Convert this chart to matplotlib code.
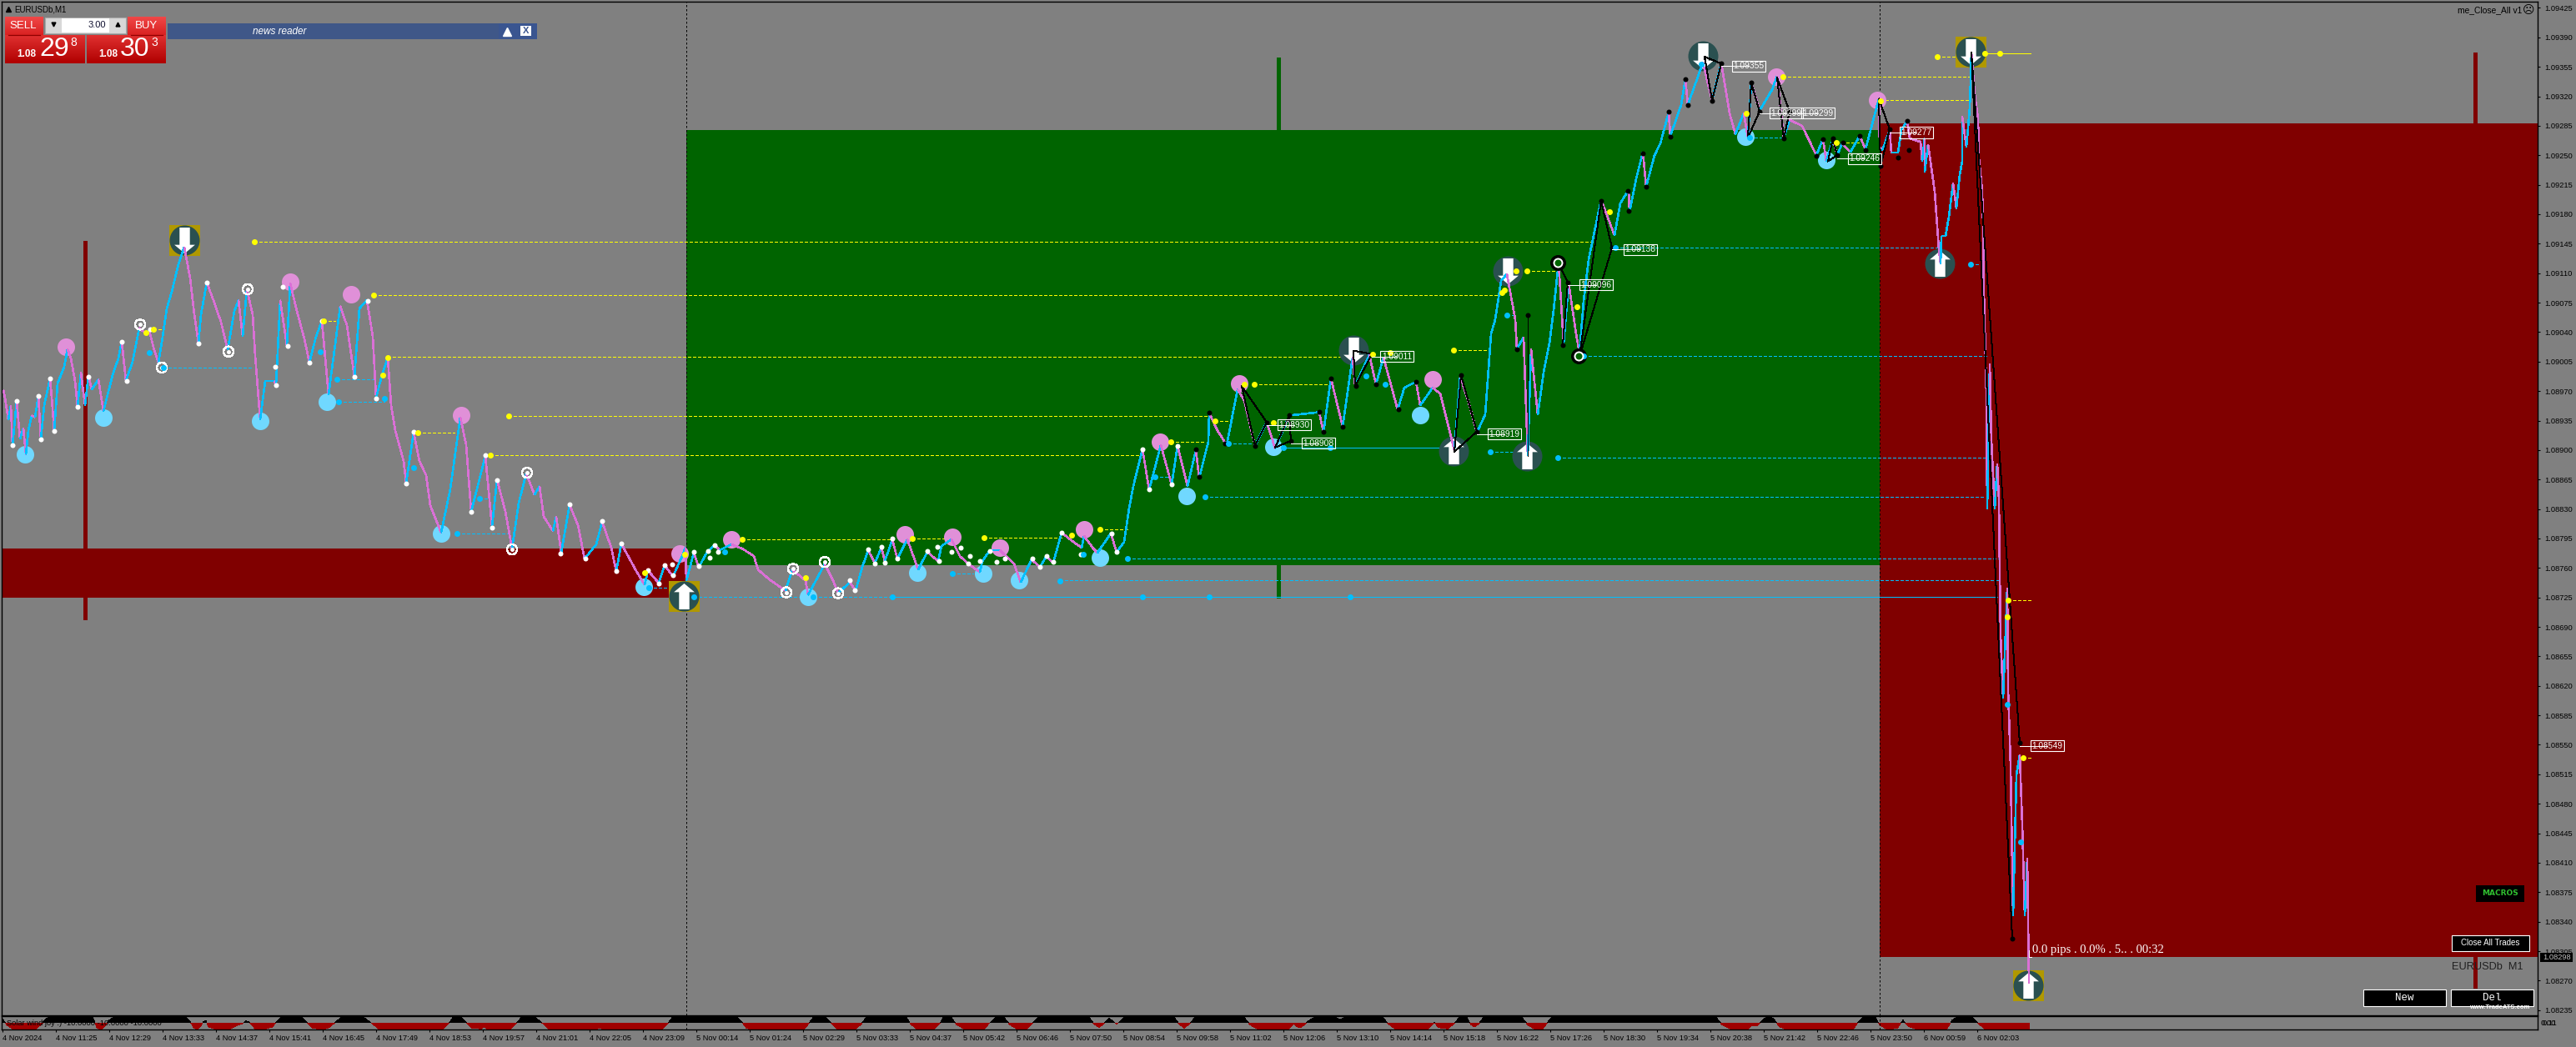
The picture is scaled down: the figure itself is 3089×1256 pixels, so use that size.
import numpy as np
import matplotlib
matplotlib.use('Agg')
import matplotlib.pyplot as plt
from matplotlib.collections import LineCollection
from matplotlib.patches import Rectangle
from matplotlib.path import Path

plt.rcParams['font.family'] = ['Liberation Sans', 'DejaVu Sans']

BG = '#808080'
DKRED = '#800000'
GREEN = '#006400'
UP = '#00BFFF'
DOWN = '#DA70D6'
YEL = '#FFFF00'

# bars are M1 bars from the left edge, prices are points above 1.08000
path_bar = [1, 3, 7, 10, 12, 17, 21, 25, 28, 31, 35, 39, 43, 46, 50, 57, 59, 62, 66, 74, 78, 82, 87, 90, 94, 99, 103, 107, 115, 121,
            132, 139, 143, 148, 156, 164, 172, 176, 181, 187, 191, 197, 203, 211, 218, 225, 230, 235, 238, 245, 254, 262, 270, 278, 283, 288, 293, 300, 303, 309,
            315, 326, 328, 333, 341, 345, 353, 362, 368, 376, 383, 391, 405, 413, 422, 428, 437, 444, 448, 455, 462, 466, 471, 481, 484, 493, 500, 508, 513, 526,
            537, 549, 556, 562, 569, 579, 587, 593, 603, 611, 619, 628, 638, 644, 649, 660, 664, 670, 680, 690, 698, 712, 719, 730, 736, 742, 759, 770, 774, 787,
            794, 804, 815, 819, 820, 829, 835, 845, 854, 860, 874, 887, 901, 906, 920, 939, 947, 963, 966, 977, 986, 996, 1002, 1016, 1023, 1031, 1038, 1046, 1054, 1058,
            1067, 1073, 1085, 1098, 1109, 1122, 1126, 1138, 1148, 1158, 1172, 1175, 1184, 1196, 1213, 1221, 1234, 1244, 1252, 1260, 1270, 1280, 1294, 1297, 1308, 1313, 1329, 1336, 1345, 1351,
            1356, 1367, 1375, 1383, 1389, 1397, 1402, 1409, 1421, 1431, 1435, 1446, 1447, 1457, 1468, 1481, 1489, 1502, 1516, 1526, 1543, 1579, 1584, 1593, 1607, 1619, 1622, 1639, 1647, 1656,
            1673, 1681, 1695, 1700, 1715, 1724, 1741, 1748, 1758, 1768, 1778, 1785, 1790, 1797, 1804, 1814, 1816, 1824, 1829, 1833, 1841, 1848, 1855, 1860, 1866, 1872, 1878, 1887, 1891, 1896,
            1902, 1911, 1917, 1925, 1933, 1940, 1950, 1951, 1959, 1967, 1971, 1981, 1988, 1998, 2000, 2013, 2018, 2021, 2039, 2050, 2061, 2071, 2078, 2088, 2093, 2097, 2107, 2122, 2128, 2136,
            2143, 2158, 2175, 2183, 2187, 2195, 2200, 2206, 2216, 2227, 2234, 2250, 2251, 2254, 2257, 2263, 2265, 2273, 2277, 2284, 2287, 2300, 2302, 2305, 2305, 2309, 2317, 2322, 2324, 2325,
            2330, 2334, 2339, 2343, 2347, 2350, 2350, 2355, 2359, 2361, 2365, 2369, 2370, 2374, 2375, 2376, 2379, 2380, 2383, 2385, 2389, 2392, 2394, 2395, 2396, 2399, 2404, 2405, 2408, 2411,
            2415, 2419, 2422, 2425, 2428, 2430]
path_pts = [971, 962, 936, 953, 906, 958, 913, 926, 895, 923, 941, 939, 964, 913, 953, 985, 962, 923, 979, 999, 1020, 1009, 982, 951, 992, 953, 988, 972, 984, 946,
            989, 1009, 1029, 982, 1005, 1045, 1038, 1042, 1022, 1004, 1028, 1068, 1088, 1121, 1141, 1104, 1061, 1027, 1061, 1099, 1075, 1052, 1019, 1065, 1078, 1035, 1091, 1061, 1012, 936,
            982, 982, 977, 1078, 1024, 1098, 1065, 1032, 1004, 1035, 1053, 966, 1071, 1048, 987, 1068, 1078, 1035, 962, 989, 1010, 953, 923, 887, 861, 921, 887, 870, 834, 802,
            854, 939, 906, 827, 854, 893, 809, 865, 827, 783, 837, 872, 847, 857, 821, 804, 821, 778, 835, 811, 771, 788, 815, 784, 756, 789, 758, 740, 757, 742,
            763, 750, 774, 784, 745, 778, 761, 779, 787, 781, 788, 783, 774, 758, 746, 733, 758, 745, 728, 748, 765, 745, 730, 743, 733, 761, 781, 766, 784, 768,
            794, 771, 794, 758, 779, 768, 786, 794, 774, 765, 755, 768, 781, 781, 765, 743, 770, 761, 774, 766, 802, 794, 784, 798, 783, 778, 801, 779, 791, 831,
            857, 901, 853, 883, 906, 877, 859, 905, 857, 900, 867, 910, 944, 923, 906, 972, 959, 905, 933, 902, 941, 945, 921, 985, 928, 1010, 976, 1013, 978, 1010,
            948, 974, 981, 953, 974, 967, 900, 988, 957, 921, 942, 1038, 1055, 1101, 1109, 1055, 1020, 1034, 893, 1020, 942, 992, 1027, 1066, 1123, 1027, 1098, 1038, 1015, 1077,
            1126, 1169, 1197, 1176, 1155, 1193, 1209, 1183, 1222, 1254, 1213, 1250, 1264, 1301, 1273, 1310, 1340, 1310, 1360, 1315, 1360, 1300, 1275, 1300, 1271, 1336, 1303, 1328, 1344, 1271,
            1292, 1285, 1250, 1269, 1243, 1269, 1250, 1264, 1254, 1273, 1257, 1317, 1260, 1256, 1263, 1280, 1253, 1253, 1280, 1291, 1270, 1266, 1243, 1270, 1230, 1263, 1207, 1138, 1121, 1154,
            1154, 1177, 1217, 1187, 1227, 1243, 1296, 1260, 1306, 1372, 1322, 1293, 1247, 1207, 1167, 1088, 965, 830, 1002, 911, 830, 884, 841, 755, 680, 605, 736, 616, 525, 347,
            514, 538, 455, 347, 415, 267]

white_bar = [12, 17, 43, 46, 57, 62, 90, 103, 143, 149, 177, 235, 245, 327, 328, 336, 342, 368, 383, 422, 438, 448, 484, 493, 562, 579, 587, 593, 669, 680, 699, 719, 736, 742, 774, 787, 794, 803, 804,
             829, 835, 846, 848, 854, 858, 1016, 1022, 1038, 1046, 1054, 1058, 1067, 1073, 1109, 1121, 1123, 1138, 1149, 1158, 1160, 1172, 1184, 1192, 1202, 1235, 1244, 1252, 1260, 1270, 1293, 1330, 1336, 1367, 1375, 1402, 1409]
white_pts = [906, 958, 964, 913, 985, 923, 951, 987, 1029, 982, 1043, 1027, 1099, 999, 977, 1094, 1024, 1004, 1053, 987, 1077, 961, 860, 922, 827, 894, 808, 864, 777, 836, 771, 816, 756, 789, 757, 742, 763, 764, 751,
             779, 762, 780, 772, 787, 779, 745, 734, 782, 765, 785, 766, 795, 771, 780, 785, 768, 779, 784, 765, 774, 768, 780, 767, 771, 771, 761, 774, 767, 802, 776, 801, 779, 901, 853, 859, 905]

black_bar = [1431, 1435, 1447, 1466, 1502, 1516, 1543, 1545, 1579, 1584, 1593, 1607, 1623, 1647, 1674, 1695, 1749, 1768, 1816, 1829, 1871, 1877, 1917, 1930, 1949, 1950, 1967, 1971, 1998, 2000, 2018, 2021, 2050, 2061, 2097, 2107, 2136, 2143, 2175, 2183, 2195, 2200, 2207, 2227, 2234, 2252, 2263, 2273, 2284, 2286, 2410, 2419]
black_pts = [901, 868, 944, 908, 905, 933, 941, 911, 945, 922, 985, 928, 976, 978, 948, 981, 989, 922, 1020, 1060, 1025, 1099, 1196, 1140, 1208, 1184, 1252, 1213, 1302, 1272, 1340, 1310, 1315, 1359, 1336, 1302, 1270, 1302, 1249, 1269, 1270, 1250, 1265, 1273, 1256, 1237, 1281, 1247, 1291, 1256, 320, 552]

ring_bar = [165, 271, 294, 191, 611, 629, 948, 986, 940, 1002]
ring_pts = [1049, 1017, 1091, 998, 782, 873, 759, 767, 731, 730]
dark_ring_bar = [1865, 1890]
dark_ring_pts = [1123, 1012]

pink_bar = [76, 345, 418, 550, 812, 874, 1082, 1139, 1196, 1297, 1388, 1483, 1715, 2127, 2248]
pink_pts = [1023, 1100, 1085, 941, 777, 794, 800, 797, 784, 806, 910, 979, 984, 1343, 1316]
cyan_bar = [27, 121, 309, 389, 526, 769, 966, 1097, 1176, 1219, 1316, 1420, 1524, 1700, 2090, 2187]
cyan_pts = [895, 938, 935, 957, 801, 738, 726, 754, 753, 745, 772, 845, 904, 941, 1272, 1244]

yel_bar = [302, 445, 462, 607, 585, 172, 181, 385, 456, 498, 770, 818, 887, 1091, 1177, 963, 1282, 1316, 1401, 1454, 1501, 1489, 1524, 1643, 1664, 1740, 1815, 1828, 1801, 1798, 1888, 1927, 2091, 2135, 2199, 2252, 2320, 2377, 2395, 2405, 2404, 2423]
yel_pts = [1147, 1084, 1010, 940, 894, 1039, 1043, 1053, 989, 921, 754, 776, 794, 795, 796, 748, 799, 806, 910, 935, 978, 978, 933, 1014, 1016, 1019, 1113, 1113, 1090, 1087, 1070, 1183, 1300, 1343, 1265, 1315, 1367, 1371, 1371, 722, 702, 535]
yel_lvl_x0 = [302, 445, 462, 607, 585, 181, 385, 498, 887, 1091, 1177, 1316, 1401, 1454, 1501, 1740, 1828, 2135, 2199, 2252, 2320, 2405, 2423]
yel_lvl_x1 = [1908, 1795, 1615, 1446, 1367, 194, 399, 542, 1066, 1137, 1270, 1351, 1440, 1470, 1593, 1782, 1865, 2359, 2226, 2359, 2359, 2432, 2432]
yel_lvl_pts = [1147, 1084, 1011, 940, 894, 1043, 1053, 921, 794, 795, 796, 806, 910, 935, 978, 1019, 1113, 1343, 1265, 1316, 1367, 722, 535]
yel_solid_x0 = [2377]
yel_solid_x1 = [2432]
yel_solid_pts = [1371]

blue_bar = [193, 176, 381, 401, 403, 458, 493, 572, 545, 775, 829, 972, 1067, 1367, 1447, 1616, 866, 1139, 1268, 1349, 1442, 1296, 1382, 1470, 1536, 1592, 1784, 1865, 1896, 1934, 1635, 1658, 1804, 2095, 2037, 2360, 2404, 2420]
blue_pts = [998, 1016, 1017, 984, 957, 961, 879, 842, 801, 737, 726, 726, 726, 726, 726, 726, 779, 753, 744, 771, 844, 776, 868, 908, 903, 903, 898, 891, 1012, 1140, 988, 978, 1060, 1271, 1358, 1121, 598, 435]
blue_lvl_x0 = [193, 401, 403, 572, 545, 775, 829, 1139, 1268, 1349, 1442, 1382, 1470, 1784, 1865, 1896, 1934, 2095, 2360, 1804]
blue_lvl_x1 = [301, 447, 458, 582, 608, 799, 1067, 1164, 2394, 2395, 2376, 1400, 1500, 1828, 2379, 2379, 2320, 2134, 2375, 1814]
blue_lvl_pts = [998, 984, 957, 842, 801, 737, 726, 753, 745, 771, 844, 868, 908, 898, 891, 1012, 1140, 1271, 1121, 1060]
solid_x0 = [1067, 1536]
solid_x1 = [2392, 1741]
solid_pts = [726, 903]

box_x0 = [-1, 820, 2251]
box_x1 = [820, 2251, 3040]
box_lo = [725, 763, 298]
box_hi = [783, 1280, 1288]
box_col = [DKRED, GREEN, DKRED]
stick_bar = [99, 1530, 2965]
stick_lo = [699, 725, 261]
stick_hi = [1148, 1366, 1372]
stick_col = [DKRED, GREEN, DKRED]

# arrow signals: bar, price, direction, gold square behind
arrow_bar = [218, 817, 1620, 1805, 2039, 1740, 1828, 2360, 2323, 2429]
arrow_pts = [1149, 727, 1019, 1113, 1368, 899, 893, 1373, 1122, 264]
arrow_dir = [-1, 1, -1, -1, -1, 1, 1, -1, 1, 1]
arrow_gold = [1, 1, 0, 0, 0, 0, 0, 1, 0, 1]

# zigzag triangles drawn in thin black
zig_bar = [[1486, 1502, 1516, 1486], [1526, 1545, 1543, 1526], [1620, 1642, 1622, 1620], [1741, 1768, 1749, 1741], [1829, 1829],
           [1865, 1877, 1871], [1891, 1930, 1917, 1891], [2041, 2061, 2050, 2041], [2093, 2107, 2097, 2093], [2128, 2143, 2136, 2128],
           [2189, 2200, 2195, 2189], [2250, 2263, 2252, 2250], [2410, 2361, 2419]]
zig_pts = [[976, 905, 933, 976], [903, 911, 941, 903], [1018, 1014, 976, 1018], [898, 922, 989, 898], [1060, 893],
           [1123, 1099, 1025], [1011, 1140, 1196, 1011], [1367, 1359, 1315, 1367], [1271, 1302, 1336, 1271], [1342, 1302, 1270, 1342],
           [1243, 1250, 1270, 1243], [1317, 1281, 1237, 1317], [320, 1372, 552]]

label_bar = [1549, 1578, 1672, 1801, 1911, 1964, 2094, 2139, 2177, 2233, 2295, 2452]
label_pts = [930, 908, 1011, 919, 1096, 1138, 1356, 1300, 1300, 1246, 1277, 549]
label_txt = ['1.08930', '1.08908', '1.09011', '1.08919', '1.09096', '1.09138', '1.09355', '1.09299', '1.09299', '1.09246', '1.09277', '1.08549']
label_from = [1516, 1545, 1642, 1768, 1877, 1930, 2061, 2107, 2143, 2200, 2263, 2419]

# solar wind sub window
solar_bar = [0, 5, 12, 23, 40, 47, 51, 58, 107, 110, 113, 118, 123, 127, 135, 219, 225, 229, 234, 238, 241, 244, 247, 257, 273, 283, 288, 292, 296, 303, 313, 324, 328, 336, 357, 365, 372, 385, 392, 399,
             408, 431, 441, 451, 528, 535, 540, 548, 556, 563, 574, 577, 581, 609, 616, 622, 637, 646, 655, 711, 716, 721, 790, 797, 803, 805, 879, 887, 892, 899, 961, 967, 973, 986, 994, 1001, 1022, 1029, 1037, 1083,
             1089, 1096, 1116, 1124, 1129, 1137, 1144, 1154, 1177, 1183, 1193, 1200, 1208, 1216, 1228, 1236, 1244, 1302, 1309, 1315, 1320, 1327, 1333, 1336, 1341, 1346, 1404, 1411, 1417, 1424, 1431, 1488, 1496, 1506, 1542, 1549, 1552, 1557, 1562, 1568,
             1577, 1596, 1604, 1613, 1654, 1662, 1670, 1709, 1717, 1722, 1733, 1740, 1747, 1755, 1761, 1765, 1770, 1777, 1821, 1829, 1838, 1847, 1854, 1859, 2054, 2062, 2073, 2093, 2098, 2104, 2112, 2118, 2124, 2131, 2139, 2219, 2225, 2232, 2245, 2251,
             2260, 2272, 2279, 2285, 2296, 2331, 2338, 2345, 2361, 2369, 2378, 2431]
solar_val = [.6, -.3, -.9, -1, -.9, -.2, .5, 1, 1, .3, -.7, -1, -.5, .3, 1, 1, .2, -.7, -1, -.4, .2, .3, -.6, -1, -.9, -.3, -.1, .3, .1, -.9, -1, -.6, .1, 1, 1, .1, -.8, -1, -.7, .1,
             1, 1, .1, -.9, -1, -.1, .8, 1, .1, -.8, -.9, -.6, -.9, -1, -.1, .8, 1, .1, -.9, -1, -.7, -1, -1, -.2, .8, 1, 1, .1, -.8, -1, -1, -.1, 1, 1, -.1, -.9, -1, -.3, 1, 1,
             -.2, -.9, -1, -.1, 1, 1, -.3, -.95, -1, -.1, 1, 1, -.3, -.9, -1, .1, 1, 1, -.2, -.7, -.2, .7, .1, -.2, .3, 1, 1, -.2, -.8, -.1, 1, 1, -.3, -1, -1, -.1, -.6, -.7, -.2, .5,
             1, 1, .5, 1, 1, -.2, -.9, -1, .1, -.7, -.9, -.2, .8, 1, -.3, -.6, -.2, 1, 1, -.3, -1, -.9, .3, 1, 1, -.3, -1, -.9, -.4, -.5, .6, 1, .6, -.6, -1, -1, .1, 1, 1, -.3,
             -1, -.8, .4, -.5, -1, -1, .4, 1, 1, -.1, -1, -1]

tick_labels = ['4 Nov 2024', '4 Nov 11:25', '4 Nov 12:29', '4 Nov 13:33', '4 Nov 14:37', '4 Nov 15:41', '4 Nov 16:45', '4 Nov 17:49', '4 Nov 18:53', '4 Nov 19:57', '4 Nov 21:01', '4 Nov 22:05', '4 Nov 23:09',
               '5 Nov 00:14', '5 Nov 01:24', '5 Nov 02:29', '5 Nov 03:33', '5 Nov 04:37', '5 Nov 05:42', '5 Nov 06:46', '5 Nov 07:50', '5 Nov 08:54', '5 Nov 09:58', '5 Nov 11:02', '5 Nov 12:06', '5 Nov 13:10', '5 Nov 14:14',
               '5 Nov 15:18', '5 Nov 16:22', '5 Nov 17:26', '5 Nov 18:30', '5 Nov 19:34', '5 Nov 20:38', '5 Nov 21:42', '5 Nov 22:46', '5 Nov 23:50', '6 Nov 00:59', '6 Nov 02:03']


def price(pts):
    return 1.08 + np.asarray(pts, dtype=float) / 1e5


def msize(d):
    # marker diameter in screen pixels to scatter size
    return (d * 0.72) ** 2


W, H = 3089, 1256
fig = plt.figure(figsize=(W / 100, H / 100), dpi=100, facecolor=BG)
ax = fig.add_axes([2 / W, 1 - 1217.7 / H, 3041 / W, 1215.4 / H], facecolor=BG)
sub = fig.add_axes([2 / W, 1 - 1235 / H, 3041 / W, 16 / H], facecolor=BG)
ui = fig.add_axes([0, 0, 1, 1])
ui.patch.set_alpha(0)
ui.axis('off')

for a in (ax, sub):
    a.set_xlim(-1, 3040)
    for s in a.spines.values():
        s.set_linewidth(1.0)
        s.set_color('black')

ax.set_ylim(price(229.1), price(1432.1))
yt = np.arange(235, 1426, 35)
ax.yaxis.tick_right()
ax.set_yticks(price(yt))
ax.set_yticklabels(['%.5f' % v for v in price(yt)], fontsize=6.7, color='black')
ax.tick_params(axis='y', length=2.2, width=0.8, pad=3.4)
ax.set_xticks([])

# zones and sticks
for x0, x1, lo, hi, c in zip(box_x0, box_x1, box_lo, box_hi, box_col):
    ax.bar(x0, price(hi) - price(lo), width=x1 - x0, bottom=price(lo), align='edge', color=c, linewidth=0, zorder=1)
for x, lo, hi, c in zip(stick_bar, stick_lo, stick_hi, stick_col):
    ax.vlines(x, price(lo), price(hi), color=c, linewidth=2.2, zorder=1.1, antialiased=False)

for x in (820, 2251):
    ax.axvline(x, color='black', lw=0.72, ls=(0, (2.5, 2.5)), zorder=1.2)
    sub.axvline(x, color='black', lw=0.72, ls=(0, (2.5, 2.5)), zorder=5)

# levels
ax.hlines(price(yel_lvl_pts), yel_lvl_x0, yel_lvl_x1, color=YEL, lw=0.72, ls=(0, (3.5, 2.5)), zorder=2, antialiased=False)
ax.hlines(price(yel_solid_pts), yel_solid_x0, yel_solid_x1, color=YEL, lw=0.72, zorder=2, antialiased=False)
ax.hlines(price(blue_lvl_pts), blue_lvl_x0, blue_lvl_x1, color=UP, lw=0.72, ls=(0, (3.5, 2.5)), zorder=2, antialiased=False)
ax.hlines(price(solid_pts), solid_x0, solid_x1, color=UP, lw=0.72, zorder=2, antialiased=False)

ax.scatter(pink_bar, price(pink_pts), s=msize(21), color='#E090D8', linewidths=0, zorder=3, antialiased=False)
ax.scatter(cyan_bar, price(cyan_pts), s=msize(21), color='#70D8FF', linewidths=0, zorder=3, antialiased=False)

# arrow signals
gold_x = [b for b, g in zip(arrow_bar, arrow_gold) if g]
gold_y = [p for p, g in zip(arrow_pts, arrow_gold) if g]
ax.scatter(gold_x, price(gold_y), s=msize(37), marker='s', color='#B09800', linewidths=0, zorder=3.2, antialiased=False)
ax.scatter(arrow_bar, price(arrow_pts), s=msize(36), color='#2A5050', linewidths=0, zorder=3.3, antialiased=False)
up_arrow = Path([(-0.4, 1 / 3), (-0.4, -1), (0.4, -1), (0.4, 1 / 3), (0.8, 1 / 3), (0, 1), (-0.8, 1 / 3), (-0.4, 1 / 3)], closed=True)
down_arrow = Path([(-0.4, -1 / 3), (-0.4, 1), (0.4, 1), (0.4, -1 / 3), (0.8, -1 / 3), (0, -1), (-0.8, -1 / 3), (-0.4, -1 / 3)], closed=True)
for d, m in ((1, up_arrow), (-1, down_arrow)):
    xs = [b for b, k in zip(arrow_bar, arrow_dir) if k == d]
    ys = [p for p, k in zip(arrow_pts, arrow_dir) if k == d]
    ax.scatter(xs, price(ys), s=msize(31), marker=m, color='white', linewidths=0, zorder=3.4, antialiased=False)

# price path, blue when rising and violet when falling
px_ = np.array(path_bar, dtype=float)
py_ = price(path_pts)
segs = [[(px_[i], py_[i]), (px_[i + 1], py_[i + 1])] for i in range(len(px_) - 1)]
cols = [UP if py_[i + 1] >= py_[i] else DOWN for i in range(len(px_) - 1)]
ax.add_collection(LineCollection(segs, colors=cols, linewidths=1.15, antialiaseds=False, zorder=4))

# zigzag lines
for zb, zp in zip(zig_bar, zig_pts):
    ax.plot(zb, price(zp), color='black', lw=0.72, zorder=4.5, antialiased=False)

# rings and dots
ax.scatter(ring_bar, price(ring_pts), s=msize(12), facecolors='none', edgecolors='white', linewidths=1.0, zorder=5, antialiased=False)
ax.scatter(ring_bar, price(ring_pts), s=msize(5), color='white', linewidths=0, zorder=5, antialiased=False)
ax.scatter(dark_ring_bar, price(dark_ring_pts), s=msize(19), color='black', linewidths=0, zorder=5, antialiased=False)
ax.scatter(dark_ring_bar, price(dark_ring_pts), s=msize(12), color='white', linewidths=0, zorder=5.1, antialiased=False)
ax.scatter(dark_ring_bar, price(dark_ring_pts), s=msize(8), color=GREEN, linewidths=0, zorder=5.2, antialiased=False)
ax.scatter(white_bar, price(white_pts), s=msize(6), color='white', linewidths=0, zorder=5, antialiased=False)
ax.scatter(black_bar, price(black_pts), s=msize(6), color='black', linewidths=0, zorder=5, antialiased=False)
ax.scatter(blue_bar, price(blue_pts), s=msize(7), color=UP, linewidths=0, zorder=5, antialiased=False)
ax.scatter(yel_bar, price(yel_pts), s=msize(7), color=YEL, linewidths=0, zorder=5.1, antialiased=False)

# price labels
for x, p, t, f in zip(label_bar, label_pts, label_txt, label_from):
    ax.plot([f, x], [price(p), price(p)], color='white', lw=0.72, zorder=5.4, antialiased=False)
    ax.text(x, price(p), t, color='white', fontsize=7.4, ha='center', va='center', zorder=5.5,
            bbox=dict(boxstyle='square,pad=0.15', fc='none', ec='white', lw=0.8))

# sub window
sub.set_ylim(-1, 1)
sx = np.array(solar_bar, dtype=float)
sv = np.array(solar_val)
sub.fill_between(sx, 0, sv, where=sv >= 0, interpolate=True, color='black', lw=0, antialiased=False)
sub.fill_between(sx, 0, sv, where=sv <= 0, interpolate=True, color='#A00000', lw=0, antialiased=False)
sub.set_yticks([])
tk = 64 * np.arange(len(tick_labels))
sub.set_xticks(tk)
sub.set_xticklabels(tick_labels, fontsize=6.7, ha='left', color='black')
sub.tick_params(axis='x', length=2.4, width=0.8, pad=1.6)
sub.text(5, 0, 'Solar wind joy :) -10.0000 -10.0000 -10.0000', fontsize=6.7, va='center', ha='left', color='black', zorder=6)


# chart window furniture, placed in screen pixels
ui.set_xlim(0, W)
ui.set_ylim(H, 0)


def rect(x0, y0, x1, y1, fc, ec='none', lw=0.8, z=10):
    ui.add_patch(Rectangle((x0, y0), x1 - x0, y1 - y0, facecolor=fc, edgecolor=ec, linewidth=lw, zorder=z))


def grad(x0, y0, x1, y1, top, bottom):
    t = np.array(matplotlib.colors.to_rgb(top))
    b = np.array(matplotlib.colors.to_rgb(bottom))
    f = np.linspace(0, 1, 32)[:, None]
    img = (t * (1 - f) + b * f)[:, None, :]
    ui.imshow(img, extent=(x0, x1, y1, y0), aspect='auto', zorder=10, interpolation='bilinear')


def label(x, y, s, size, color='black', ha='center', **kw):
    ui.text(x, y, s, fontsize=size, color=color, ha=ha, va='center', zorder=12, **kw)


label(17, 11.5, 'EURUSDb,M1', 7.0, ha='left')
ui.plot(9.5, 11, marker='^', ms=4.5, color='black', zorder=12)

grad(6, 20, 52, 43, '#F04848', '#D82020')
grad(153, 20, 199, 43, '#F04848', '#D82020')
grad(6, 42, 102, 76, '#E03030', '#B00000')
grad(104, 42, 199, 76, '#E03030', '#B00000')
ui.plot([10, 48], [41.5, 41.5], color='#900000', lw=0.9, zorder=11)
ui.plot([157, 195], [41.5, 41.5], color='#900000', lw=0.9, zorder=11)
rect(54, 21, 151, 40, '#D8D8D8', ec='#A8A8A8')
rect(74, 22, 131, 39, 'white')
ui.plot(64, 29, marker='v', ms=3.5, color='black', zorder=12)
ui.plot(141, 29, marker='^', ms=3.5, color='black', zorder=12)
label(127, 30, '3.00', 8.0, color='#101030', ha='right')
label(28, 31, 'SELL', 9.5, color='white')
label(175, 31, 'BUY', 9.5, color='white')
label(32, 65.5, '1.08', 8.5, color='white', fontweight='bold')
label(65, 59, '29', 23, color='white')
label(88.5, 51, '8', 10, color='white')
label(130, 65.5, '1.08', 8.5, color='white', fontweight='bold')
label(162, 59, '30', 23, color='white')
label(185, 51, '3', 10, color='white')

rect(201, 28, 644, 47, '#3F5788')
rect(598, 28, 644, 47, '#3A5590')
label(335, 38, 'news reader', 8.5, color='white', style='italic')
ui.plot(608, 37.5, marker='^', ms=6.5, color='white', zorder=12)
rect(624, 31, 637, 43, 'white', z=11)
label(630.5, 37, 'X', 8, color='#3A5590', fontweight='bold')

label(3024, 12, 'me_Close_All v1', 7.4, ha='right')
ui.text(3032, 12, '\u2639', fontsize=10, family='DejaVu Sans', ha='center', va='center', zorder=12)

rect(2969, 1062, 3027, 1082, 'black')
label(2998, 1072, 'MACROS', 6.5, color='#30C030', fontweight='bold', family='DejaVu Sans')
rect(2940, 1122, 3033, 1141, 'black', ec='white')
label(2986.5, 1131.5, 'Close All Trades', 7.0, color='white')
label(3026, 1160, 'EURUSDb  M1', 9.2, ha='right', color='#202020')
rect(2834, 1187, 2932.5, 1207, 'black', ec='white')
rect(2939, 1187, 3038, 1207, 'black', ec='white')
label(2883, 1197, 'New', 9, color='white', family='Liberation Mono')
label(2988, 1197, 'Del', 9, color='white', family='Liberation Mono')
label(2997, 1208.5, 'www.TradeATS.com', 5.5, color='white', fontweight='bold')
label(2437, 1139, '0.0 pips . 0.0% . 5.. . 00:32', 10.5, color='white', ha='left', family='Liberation Serif')
ui.plot([2433, 2433, 2436], [1140, 1148, 1148], color='white', lw=0.7, zorder=12)

rect(3046, 1143, 3085, 1154, 'black')
label(3049, 1148.5, '1.08298', 6.7, color='#C0C0C0', ha='left')
label(3047, 1227, '0.00', 6.7, ha='left')
label(3049, 1228, '0.11', 6.7, ha='left')

ui.set_xlim(0, W)
ui.set_ylim(H, 0)

fig.savefig('out.png', dpi=100, facecolor=BG)
